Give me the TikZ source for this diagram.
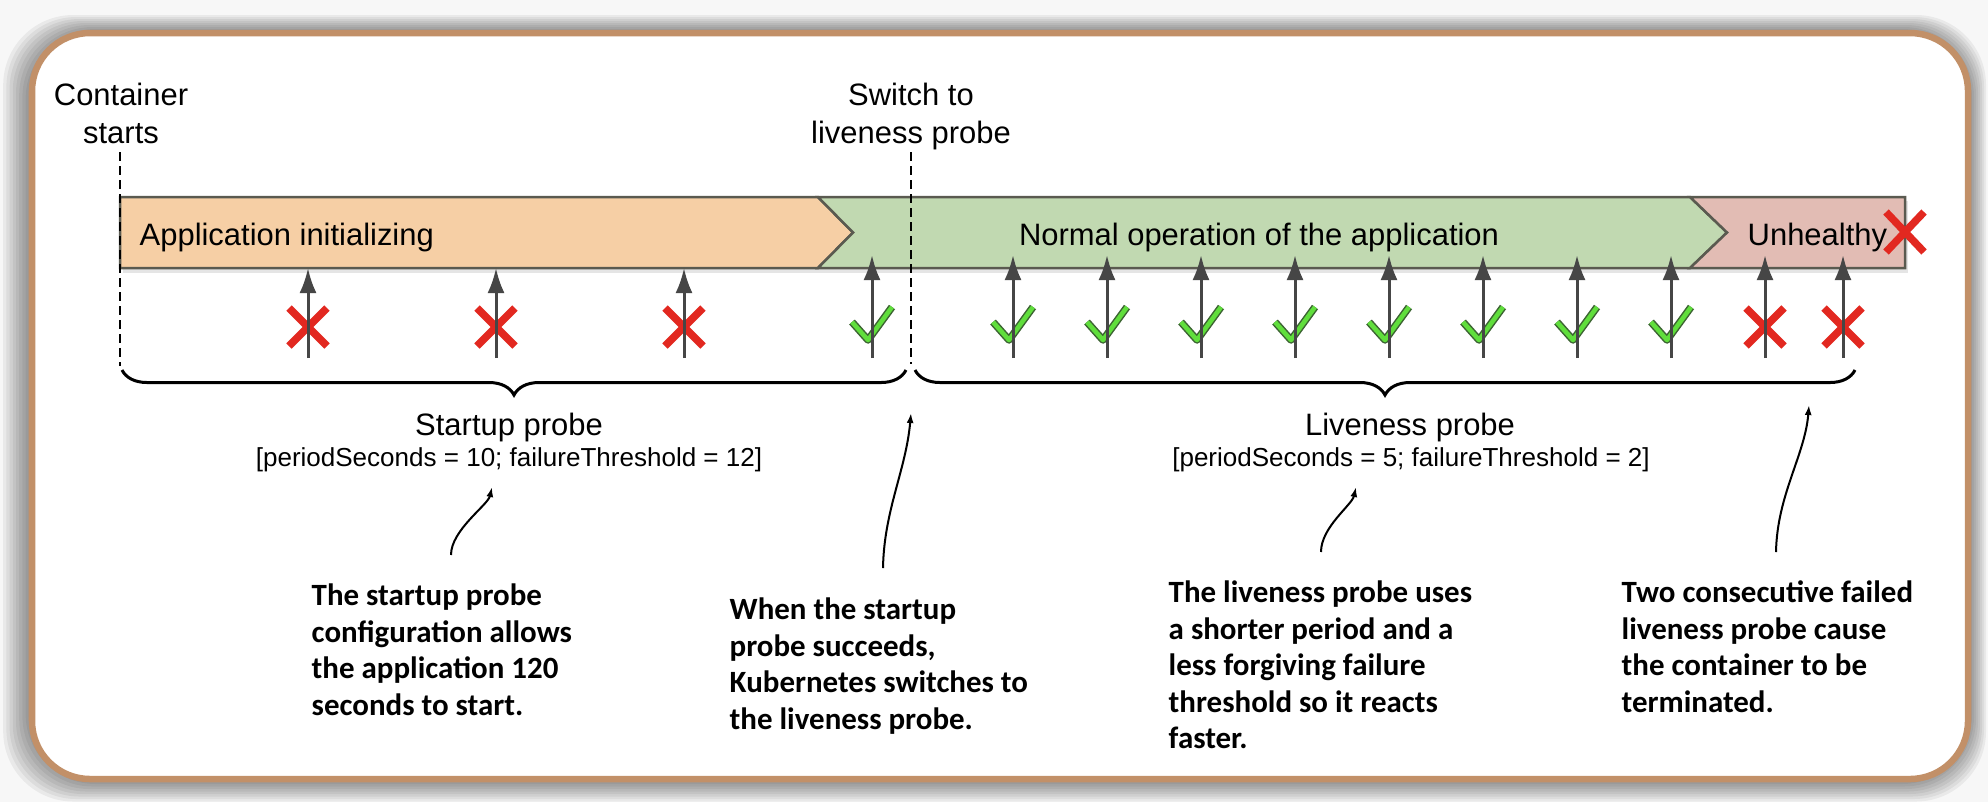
\documentclass[tikz,border=0pt]{standalone}
\usepackage{fontspec}
\setmainfont{Liberation Sans}
\newfontfamily\notefont{Carlito}
\usetikzlibrary{positioning, decorations.pathreplacing, arrows.meta}

\definecolor{backgray}{RGB}{247,247,247}
\definecolor{framebrown}{RGB}{194,144,104}
\definecolor{initorange}{RGB}{246,207,165}
\definecolor{normalgreen}{RGB}{193,217,177}
\definecolor{sickpink}{RGB}{226,188,180}
\definecolor{barline}{RGB}{90,90,80}
\definecolor{failred}{RGB}{226,40,32}
\definecolor{okgreen}{RGB}{96,222,60}
\definecolor{okdark}{RGB}{60,100,50}
\definecolor{arrowgray}{RGB}{70,70,70}

\tikzstyle{lbl} = [inner sep=0pt, align=center, font=\fontsize{8.8}{11}\selectfont]
\tikzstyle{cfg} = [inner sep=0pt, font=\fontsize{7.4}{9}\selectfont]
\tikzstyle{notetxt} = [inner sep=0pt, anchor=north west, align=left, font=\notefont\bfseries\fontsize{8.8}{10.4}\selectfont]
\tikzstyle{phase} = [draw=barline, line width=0.025cm]
\tikzstyle{probearrow} = [draw=arrowgray, line width=0.03cm, -{Latex[length=0.25cm,width=0.17cm]}]
\tikzstyle{failmark} = [draw=failred, line width=0.075cm]
\tikzstyle{okedge} = [draw=okdark, line width=0.075cm, line join=round]
\tikzstyle{okfill} = [draw=okgreen, line width=0.045cm, line join=round]
\tikzstyle{noteline} = [draw=black, line width=0.02cm, -{Latex[length=0.1cm,width=0.07cm]}]
\tikzstyle{phasebrace} = [draw=black, line width=0.03cm, decorate, decoration={brace, mirror, amplitude=0.25cm}]
\tikzstyle{switchline} = [draw=black, line width=0.025cm, dash pattern=on 0.09cm off 0.05cm]

\begin{document}
\begin{tikzpicture}[x=0.01cm, y=-0.01cm]
\useasboundingbox (0,0) rectangle (1988,802);

% backdrop, glow and frame
\fill[backgray] (0,0) rectangle (1988,802);
\foreach \i in {1,...,9}
  \fill[black, opacity=0.055, rounded corners=0.7cm] (32-3.2*\i,33-2*\i) rectangle (1968+2*\i,779+2.5*\i);
\draw[framebrown, line width=0.065cm, fill=white, rounded corners=0.58cm] (32,33) rectangle (1968,779);

% timeline bar
\fill[gray!20] (123,201) rectangle (1908,273);
\filldraw[phase, fill=initorange] (120,197) -- (818,197) -- (853,232.5) -- (818,268) -- (120,268) -- cycle;
\filldraw[phase, fill=normalgreen] (818,197) -- (1690,197) -- (1727,232.5) -- (1690,268) -- (818,268) -- (853,232.5) -- cycle;
\filldraw[phase, fill=sickpink] (1690,197) -- (1905,197) -- (1905,268) -- (1690,268) -- (1727,232.5) -- cycle;

\node[lbl, anchor=base west] (init) at (139,245) {Application initializing};
\node[lbl, anchor=base] (normal) at (1259,245) {Normal operation of the application};
\node[lbl, anchor=base west] (sick) at (1747,245) {Unhealthy};
\draw[failmark] (1886,212) -- (1924,252) (1886,252) -- (1924,212);

% start and switch markers
\node[lbl, anchor=north] (start) at (121,82) {Container\\starts};
\node[lbl, anchor=north] (switch) at (911,82) {Switch to\\liveness probe};
\coordinate (starttop) at (120,152);
\coordinate (startend) at (120,366);
\coordinate (switchtop) at (911,152);
\coordinate (switchend) at (911,364);
\draw[switchline] (starttop) -- (startend);
\draw[switchline] (switchtop) -- (switchend);

% probes
\foreach \x in {308,496,684} {
  \coordinate (fb\x) at (\x,358);
  \coordinate (ft\x) at (\x,268);
  \draw[failmark] (\x-19,308) -- (\x+19,346) (\x-19,346) -- (\x+19,308);
  \draw[probearrow] (fb\x) -- (ft\x);
}
\foreach \x in {872,1013,1107,1201,1295,1389,1483,1577,1671} {
  \coordinate (ob\x) at (\x,358);
  \coordinate (ot\x) at (\x,255);
  \draw[okedge] (\x-20,322) -- (\x-4,340) -- (\x+20,307);
  \draw[okfill] (\x-20,322) -- (\x-4,340) -- (\x+20,307);
  \draw[probearrow] (ob\x) -- (ot\x);
}
\foreach \x in {1765,1843} {
  \coordinate (fb\x) at (\x,358);
  \coordinate (ft\x) at (\x,255);
  \draw[failmark] (\x-19,308) -- (\x+19,346) (\x-19,346) -- (\x+19,308);
  \draw[probearrow] (fb\x) -- (ft\x);
}

% braces
\coordinate (sb1) at (122,370);
\coordinate (sb2) at (906,370);
\coordinate (lb1) at (915,370);
\coordinate (lb2) at (1855,370);
\draw[phasebrace] (sb1) -- (sb2);
\draw[phasebrace] (lb1) -- (lb2);

\node[lbl, anchor=base] (startup) at (509,435) {Startup probe};
\node[cfg, anchor=base] (startupcfg) at (509,466) {[periodSeconds = 10; failureThreshold = 12]};
\node[lbl, anchor=base] (liveness) at (1410,435) {Liveness probe};
\node[cfg, anchor=base] (livenesscfg) at (1411,466) {[periodSeconds = 5; failureThreshold = 2]};

% notes
\node[notetxt] (note1) at (311,583) {The startup probe\\configuration allows\\the application 120\\seconds to start.};
\node[notetxt] (note2) at (729,597) {When the startup\\probe succeeds,\\Kubernetes switches to\\the liveness probe.};
\node[notetxt] (note3) at (1168,580) {The liveness probe uses\\a shorter period and a\\less forgiving failure\\threshold so it reacts\\faster.};
\node[notetxt] (note4) at (1621,580) {Two consecutive failed\\liveness probe cause\\the container to be\\terminated.};

\coordinate (n1a) at (451,555);
\coordinate (n1b) at (492,487);
\coordinate (n2a) at (883,568);
\coordinate (n2b) at (911,413);
\coordinate (n3a) at (1321,552);
\coordinate (n3b) at (1356,487);
\coordinate (n4a) at (1776,552);
\coordinate (n4b) at (1809,405);
\draw[noteline] (n1a) .. controls (451,530) and (488,505) .. (n1b);
\draw[noteline] (n2a) .. controls (884,510) and (906,470) .. (n2b);
\draw[noteline] (n3a) .. controls (1321,527) and (1352,505) .. (n3b);
\draw[noteline] (n4a) .. controls (1777,495) and (1805,455) .. (n4b);

\end{tikzpicture}
\end{document}
